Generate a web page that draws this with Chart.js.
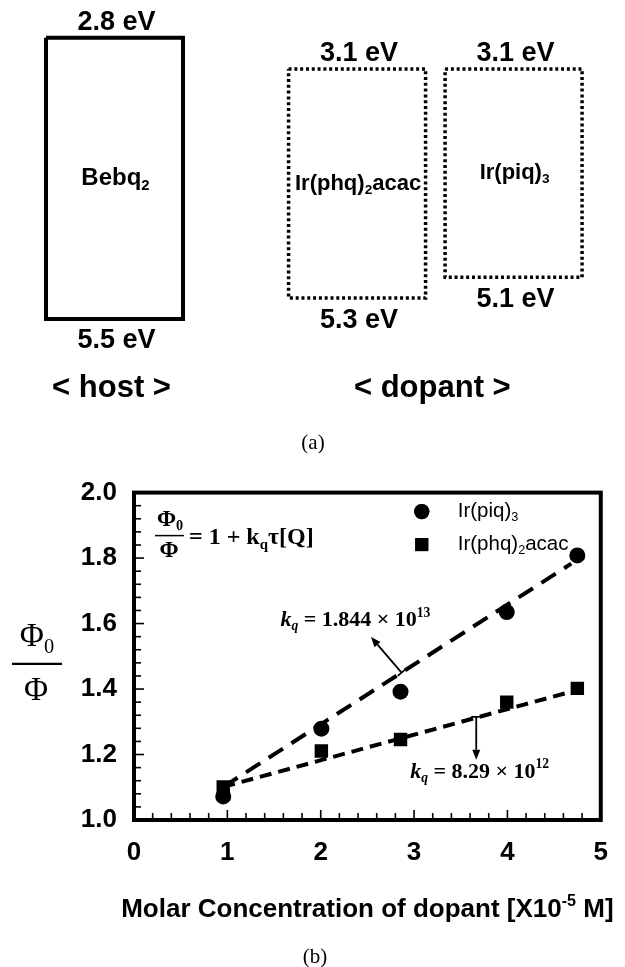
<!DOCTYPE html>
<html><head><meta charset="utf-8">
<script src="https://cdn.jsdelivr.net/npm/chart.js@4.4.0/dist/chart.umd.min.js"></script>
<style>
html,body{margin:0;padding:0;background:#fff;}
#wrap{position:relative;width:625px;height:967px;overflow:hidden;background:#fff;}
canvas{display:block;}
</style></head><body>
<div id="wrap">
  <div style="position:absolute;left:0;top:0;width:625px;height:460px"><canvas id="cA" width="625" height="460"></canvas></div>
  <div style="position:absolute;left:0;top:460px;width:625px;height:507px"><canvas id="cB" width="625" height="507"></canvas></div>
</div>
<script>
// ===== data: (a) energy levels =====
const materials = ['Bebq2', 'Ir(phq)2acac', 'Ir(piq)3'];
const roles = ['host', 'dopant', 'dopant'];
const lumoEV = [2.8, 3.1, 3.1];
const homoEV = [5.5, 5.3, 5.1];

// ===== data: (b) Stern-Volmer =====
const seriesNames = ['Ir(piq)3', 'Ir(phq)2acac'];
const concPiq = [0.956, 2.007, 2.855, 3.993, 4.749];
const ratioPiq = [1.072, 1.279, 1.392, 1.635, 1.808];
const concPhq = [0.956, 2.007, 2.855, 3.993, 4.749];
const ratioPhq = [1.101, 1.211, 1.246, 1.360, 1.402];
const fitPiqX = [0.956, 4.684];
const fitPiqY = [1.101, 1.783];
const fitPhqX = [0.956, 4.684];
const fitPhqY = [1.101, 1.392];
const kqMantissa = ['1.844', '8.29'];
const kqExponent = ['13', '12'];
const xTickValues = [0, 1, 2, 3, 4, 5];
const yTickValues = [1.0, 1.2, 1.4, 1.6, 1.8, 2.0];

// ===== layout / annotation settings (not data) =====
const boxSlot = [0, 1.55, 2.55];
const boxHalf = 0.4377;
const kqLabelAt = [[1.568, 1.61], [2.958, 1.147]];
const arrowFrom = [[2.866, 1.450], [3.666, 1.315]];
const arrowTo = [[2.539, 1.559], [3.666, 1.184]];

const SANS = '"Liberation Sans", Arial, Helvetica, sans-serif';
const SERIF = '"Liberation Serif", "Times New Roman", serif';

function fnt(size, weight, style, family) {
  return (style || 'normal') + ' ' + (weight || 'normal') + ' ' + size + 'px ' + family;
}
function segFont(s, o) {
  const sz = (s.sub || s.sup) ? o.size * 0.62 : o.size;
  return fnt(sz, s.weight || o.weight, s.style || o.style, s.family || o.family);
}
function segsWidth(ctx, segs, o) {
  let w = 0;
  for (const s of segs) { ctx.font = segFont(s, o); w += ctx.measureText(s.t).width + (s.gap || 0); }
  return w;
}
function drawRich(ctx, segs, x, y, o) {
  const w = segsWidth(ctx, segs, o);
  let cx = o.align === 'center' ? x - w / 2 : (o.align === 'right' ? x - w : x);
  ctx.save();
  ctx.fillStyle = '#000'; ctx.textBaseline = 'middle'; ctx.textAlign = 'left';
  for (const s of segs) {
    ctx.font = segFont(s, o);
    const dy = s.sub ? o.size * 0.3 : (s.sup ? -o.size * 0.32 : 0);
    ctx.fillText(s.t, cx, y + dy);
    cx += ctx.measureText(s.t).width + (s.gap || 0);
  }
  ctx.restore();
  return w;
}
function chem(name) {
  return name.split(/(\d+)/).filter(Boolean).map(p => /^\d+$/.test(p) ? {t: p, sub: true} : {t: p});
}

// ================= Chart (a) =================
const boxDatasets = materials.map((m, i) => {
  const l = boxSlot[i] - boxHalf, r = boxSlot[i] + boxHalf;
  const host = roles[i] === 'host';
  return {
    label: m,
    data: [{x: l, y: lumoEV[i]}, {x: r, y: lumoEV[i]}, {x: r, y: homoEV[i]}, {x: l, y: homoEV[i]}, {x: l, y: lumoEV[i]}],
    borderColor: '#000',
    borderWidth: host ? 4 : 3.5,
    borderDash: host ? [] : [3, 2.8],
    borderCapStyle: 'butt',
    borderJoinStyle: 'miter',
    pointRadius: 0,
    tension: 0,
    fill: false,
    showLine: true
  };
});

const diagramText = {
  id: 'diagramText',
  afterDraw(chart) {
    const ctx = chart.ctx, xs = chart.scales.x, ys = chart.scales.y, ca = chart.chartArea;
    materials.forEach((m, i) => {
      const cx = xs.getPixelForValue(boxSlot[i]);
      const yt = ys.getPixelForValue(lumoEV[i]);
      const yb = ys.getPixelForValue(homoEV[i]);
      drawRich(ctx, [{t: lumoEV[i].toFixed(1) + ' eV'}], cx + 2, yt - 15, {size: 27, weight: 'bold', family: SANS, align: 'center'});
      drawRich(ctx, [{t: homoEV[i].toFixed(1) + ' eV'}], cx + 2, yb + 22, {size: 27, weight: 'bold', family: SANS, align: 'center'});
      drawRich(ctx, chem(m), cx + 1, (yt + yb) / 2, {size: roles[i] === 'host' ? 24 : 22, weight: 'bold', family: SANS, align: 'center'});
    });
    const groups = [...new Set(roles)];
    groups.forEach(g => {
      const idx = roles.map((r, i) => r === g ? i : -1).filter(i => i >= 0);
      const cx = idx.reduce((s, i) => s + xs.getPixelForValue(boxSlot[i]), 0) / idx.length;
      drawRich(ctx, [{t: '< ' + g + ' >'}], cx - 3, ca.bottom + 17, {size: 31, weight: 'bold', family: SANS, align: 'center'});
    });
    drawRich(ctx, [{t: '(a)'}], 313, 443, {size: 21, weight: 'normal', family: SERIF, align: 'center'});
  }
};

new Chart(document.getElementById('cA'), {
  type: 'scatter',
  data: {datasets: boxDatasets},
  options: {
    responsive: false, animation: false, devicePixelRatio: 1,
    layout: {padding: {top: 6.5, bottom: 89, left: 0, right: 0}},
    plugins: {legend: {display: false}, tooltip: {enabled: false}},
    scales: {
      x: {type: 'linear', display: false, min: -0.7316, max: 3.262},
      y: {type: 'linear', display: false, min: 2.5, max: 6.0, reverse: true}
    }
  },
  plugins: [diagramText]
});

// ================= Chart (b) =================
const toXY = (xs, ys) => xs.map((x, i) => ({x: x, y: ys[i]}));

const plotDecor = {
  id: 'plotDecor',
  afterDatasetsDraw(chart) {
    const ctx = chart.ctx, xs = chart.scales.x, ys = chart.scales.y, ca = chart.chartArea;
    ctx.save();
    ctx.strokeStyle = '#000'; ctx.fillStyle = '#000';
    // inward ticks
    ctx.lineWidth = 1.6;
    for (let k = 0; k <= 25; k++) {
      const v = 1 + k * 0.04;
      const p = ys.getPixelForValue(v);
      const len = (k % 5 === 0) ? 10 : 7;
      ctx.beginPath(); ctx.moveTo(ca.left, p); ctx.lineTo(ca.left + len, p); ctx.stroke();
    }
    for (let k = 0; k <= 25; k++) {
      const v = k * 0.2;
      const p = xs.getPixelForValue(v);
      const len = (k % 5 === 0) ? 10 : 7;
      ctx.beginPath(); ctx.moveTo(p, ca.bottom); ctx.lineTo(p, ca.bottom - len); ctx.stroke();
    }
    // frame
    ctx.lineWidth = 4;
    ctx.strokeRect(ca.left, ca.top, ca.right - ca.left, ca.bottom - ca.top);

    // legend
    chart.data.datasets.slice(0, 2).forEach((ds, i) => {
      const lx = ca.right - 179, ly = ca.top + 19 + i * 33;
      Chart.helpers.drawPoint(ctx, {pointStyle: ds.pointStyle, radius: ds.pointStyle === 'rect' ? 9.2 : 7.6, borderWidth: 0, rotation: 0}, lx, ly);
      ctx.fillStyle = '#000'; ctx.fill();
      drawRich(ctx, chem(ds.label), ca.right - 143, ly, {size: 20.5, weight: 'normal', family: SANS, align: 'left'});
    });

    // Stern-Volmer formula
    const fx = ca.left + 21, fy = ca.top + 44;
    const o = {size: 23, weight: 'bold', family: SERIF};
    drawRich(ctx, [{t: 'Φ'}, {t: '0', sub: true}], fx + 15, fy - 17, Object.assign({align: 'center'}, o));
    ctx.lineWidth = 1.5;
    ctx.beginPath(); ctx.moveTo(fx, fy - 1); ctx.lineTo(fx + 29, fy - 1); ctx.stroke();
    drawRich(ctx, [{t: 'Φ'}], fx + 14, fy + 14, Object.assign({align: 'center'}, o));
    drawRich(ctx, [{t: '= 1 + k'}, {t: 'q', sub: true}, {t: 'τ[Q]'}], fx + 34, fy + 1, Object.assign({align: 'left'}, o, {size: 24}));

    // kq annotations
    kqLabelAt.forEach((pos, i) => {
      const px = xs.getPixelForValue(pos[0]), py = ys.getPixelForValue(pos[1]);
      drawRich(ctx, [
        {t: 'k', style: 'italic'}, {t: 'q', style: 'italic', sub: true},
        {t: ' = ' + kqMantissa[i] + ' × 10'}, {t: kqExponent[i], sup: true}
      ], px, py, {size: 22, weight: 'bold', family: SERIF, align: 'left'});
    });

    // arrows
    ctx.strokeStyle = '#000'; ctx.fillStyle = '#000'; ctx.lineWidth = 1.8;
    arrowFrom.forEach((f, i) => {
      const x1 = xs.getPixelForValue(f[0]), y1 = ys.getPixelForValue(f[1]);
      const x2 = xs.getPixelForValue(arrowTo[i][0]), y2 = ys.getPixelForValue(arrowTo[i][1]);
      const dx = x2 - x1, dy = y2 - y1, L = Math.hypot(dx, dy), ux = dx / L, uy = dy / L;
      const hl = 10, hw = 4;
      ctx.beginPath(); ctx.moveTo(x1, y1); ctx.lineTo(x2 - ux * hl, y2 - uy * hl); ctx.stroke();
      ctx.beginPath();
      ctx.moveTo(x2, y2);
      ctx.lineTo(x2 - ux * hl - uy * hw, y2 - uy * hl + ux * hw);
      ctx.lineTo(x2 - ux * hl + uy * hw, y2 - uy * hl - ux * hw);
      ctx.closePath(); ctx.fill();
      const bw = 5;
      ctx.beginPath(); ctx.moveTo(x1 - uy * bw, y1 + ux * bw); ctx.lineTo(x1 + uy * bw, y1 - ux * bw); ctx.stroke();
    });
    ctx.restore();

    // y title: Φ0 / Φ
    const ty = (ca.top + ca.bottom) / 2 + 7.5;
    drawRich(ctx, [{t: 'Φ'}, {t: '0', sub: true}], 37, ty - 26, {size: 33, weight: 'normal', family: SERIF, align: 'center'});
    ctx.save(); ctx.lineWidth = 2.2; ctx.strokeStyle = '#000';
    ctx.beginPath(); ctx.moveTo(12, ty); ctx.lineTo(62, ty); ctx.stroke(); ctx.restore();
    drawRich(ctx, [{t: 'Φ'}], 36, ty + 28, {size: 33, weight: 'normal', family: SERIF, align: 'center'});

    // x title
    drawRich(ctx, [{t: 'Molar Concentration of dopant [X10'}, {t: '-5', sup: true}, {t: ' M]'}],
      (ca.left + ca.right) / 2, ca.bottom + 90, {size: 26, weight: 'bold', family: SANS, align: 'center'});
    // caption
    drawRich(ctx, [{t: '(b)'}], 315, 497, {size: 21, weight: 'normal', family: SERIF, align: 'center'});
  }
};

new Chart(document.getElementById('cB'), {
  type: 'scatter',
  data: {
    datasets: [
      {label: seriesNames[0], data: toXY(concPiq, ratioPiq), pointStyle: 'circle', pointRadius: 8,
       backgroundColor: '#000', borderColor: '#000', borderWidth: 0, showLine: false},
      {label: seriesNames[1], data: toXY(concPhq, ratioPhq), pointStyle: 'rect', pointRadius: 9.5,
       backgroundColor: '#000', borderColor: '#000', borderWidth: 0, showLine: false},
      {label: 'fit ' + seriesNames[0], data: toXY(fitPiqX, fitPiqY), showLine: true, pointRadius: 0,
       borderColor: '#000', borderWidth: 4, borderDash: [17, 10], borderCapStyle: 'butt', tension: 0},
      {label: 'fit ' + seriesNames[1], data: toXY(fitPhqX, fitPhqY), showLine: true, pointRadius: 0,
       borderColor: '#000', borderWidth: 4, borderDash: [12, 7], borderCapStyle: 'butt', tension: 0}
    ]
  },
  options: {
    responsive: false, animation: false, devicePixelRatio: 1,
    layout: {padding: {top: 27, bottom: 0, left: 0, right: 16}},
    plugins: {legend: {display: false}, tooltip: {enabled: false}},
    scales: {
      x: {
        type: 'linear', min: 0, max: 5,
        afterBuildTicks: s => { s.ticks = xTickValues.map(v => ({value: v})); },
        afterFit: s => { s.height = 147; },
        grid: {display: false, drawTicks: false, tickLength: 0},
        border: {display: false},
        ticks: {color: '#000', font: {family: SANS, size: 26, weight: 'bold'}, padding: 17,
                maxRotation: 0, autoSkip: false, callback: v => String(v)}
      },
      y: {
        type: 'linear', min: 1.0, max: 2.0,
        afterBuildTicks: s => { s.ticks = yTickValues.map(v => ({value: v})); },
        afterFit: s => { s.width = 134; },
        grid: {display: false, drawTicks: false, tickLength: 0},
        border: {display: false},
        ticks: {color: '#000', font: {family: SANS, size: 26, weight: 'bold'}, padding: 17,
                autoSkip: false, callback: v => Number(v).toFixed(1)}
      }
    }
  },
  plugins: [plotDecor]
});
</script>
</body></html>
